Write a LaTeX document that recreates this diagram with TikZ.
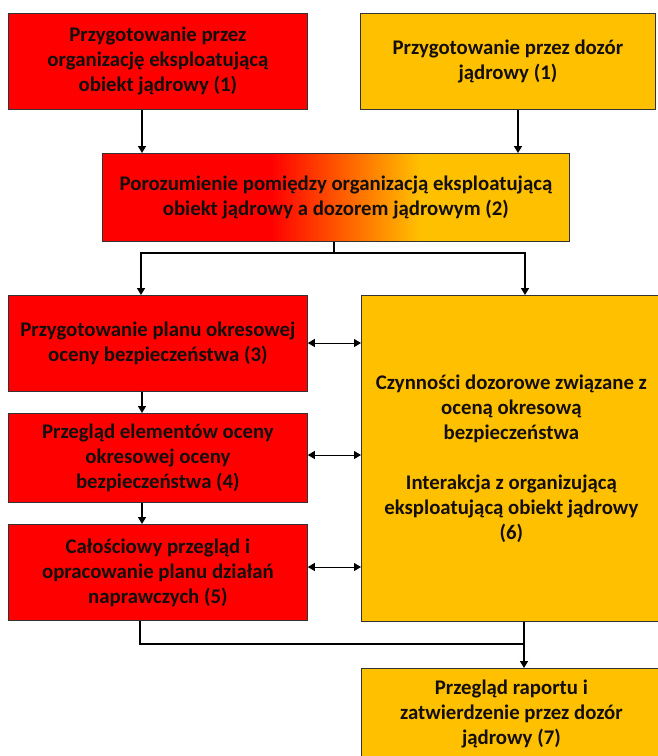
\documentclass[tikz,border=0pt]{standalone}
\usepackage{fontspec}
\setmainfont{Carlito}
\usetikzlibrary{arrows.meta}
\definecolor{boxred}{HTML}{FF0000}
\definecolor{boxyel}{HTML}{FFC000}
\definecolor{edgec}{HTML}{333333}
\definecolor{txt}{HTML}{140F0C}
\pgfdeclarehorizontalshading{redyel}{100bp}{color(0bp)=(boxred); color(43bp)=(boxred); color(59bp)=(boxyel); color(100bp)=(boxyel)}
\begin{document}
\begin{tikzpicture}[x=1pt,y=-1pt,
  box/.style={draw=edgec, line width=0.8pt, align=center, inner sep=0pt, anchor=north west,
    font=\bfseries\fontsize{20.8}{25}\selectfont, text=txt},
  redbox/.style={box, fill=boxred},
  yelbox/.style={box, fill=boxyel},
  conn/.style={line width=1.6pt, draw=black},
  arr/.style={conn, -{Triangle[width=8pt,length=7pt]}},
  darr/.style={line width=1pt, draw=black, {Triangle[width=8pt,length=7pt]}-{Triangle[width=8pt,length=7pt]}}]
\useasboundingbox (0,0) rectangle (657,756);
\fill[white] (0,0) rectangle (657,756);

\node[redbox, minimum width=299, minimum height=96] (A) at (8,13)
  {Przygotowanie przez\\organizację eksploatującą\\obiekt jądrowy (1)};
\node[yelbox, minimum width=295, minimum height=96] (B) at (360,13)
  {Przygotowanie przez dozór\\jądrowy (1)};
\node[box, shading=redyel, minimum width=467, minimum height=88] (C) at (102,153)
  {Porozumienie pomiędzy organizacją eksploatującą\\obiekt jądrowy a dozorem jądrowym (2)};
\node[redbox, minimum width=299, minimum height=96] (D) at (8,295)
  {Przygotowanie planu okresowej\\oceny bezpieczeństwa (3)};
\node[redbox, minimum width=299, minimum height=89] (E) at (8,413)
  {Przegląd elementów oceny\\okresowej oceny\\bezpieczeństwa (4)};
\node[redbox, minimum width=299, minimum height=96] (F) at (8,524)
  {Całościowy przegląd i\\opracowanie planu działań\\naprawczych (5)};
\node[yelbox, minimum width=300, minimum height=326] (G) at (361,295)
  {Czynności dozorowe związane z\\oceną okresową\\bezpieczeństwa\\[25pt]Interakcja z organizującą\\eksploatującą obiekt jądrowy\\(6)};
\node[yelbox, minimum width=300, minimum height=92] (H) at (361,668)
  {Przegląd raportu i\\zatwierdzenie przez dozór\\jądrowy (7)};

\coordinate (xa) at (142,0);
\coordinate (xb) at (518,0);
\coordinate (xl) at (141,0);
\coordinate (xr) at (525,0);
\coordinate (j) at (334,253);
\coordinate (y3) at (0,343);
\coordinate (y4) at (0,455);
\coordinate (y5) at (0,567);
\coordinate (k) at (524,644);
\coordinate (xf) at (140,0);

\draw[arr] (xa |- A.south) -- (xa |- C.north);
\draw[arr] (xb |- B.south) -- (xb |- C.north);
\draw[conn] (j |- C.south) -- (j);
\draw[arr] (j) -| (xl |- D.north);
\draw[arr] (j) -| (xr |- G.north);
\draw[arr] (xa |- D.south) -- (xa |- E.north);
\draw[arr] (xa |- E.south) -- (xa |- F.north);
\draw[darr] (D.east |- y3) -- (G.west |- y3);
\draw[darr] (E.east |- y4) -- (G.west |- y4);
\draw[darr] (F.east |- y5) -- (G.west |- y5);
\draw[conn] (xf |- F.south) |- (k);
\draw[arr] (k |- G.south) -- (k |- H.north);
\end{tikzpicture}
\end{document}
